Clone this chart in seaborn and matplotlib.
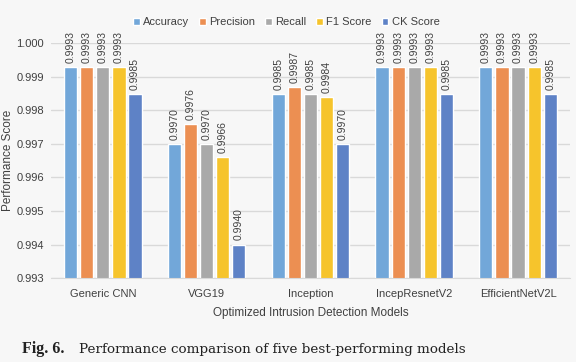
import pandas as pd
import matplotlib.pyplot as plt
import seaborn as sns

# scores
models = ['Generic CNN', 'VGG19', 'Inception', 'IncepResnetV2', 'EfficientNetV2L']
metrics = ['Accuracy', 'Precision', 'Recall', 'F1 Score', 'CK Score']
accuracy = [0.9993, 0.9970, 0.9985, 0.9993, 0.9993]
precision = [0.9993, 0.9976, 0.9987, 0.9993, 0.9993]
recall = [0.9993, 0.9970, 0.9985, 0.9993, 0.9993]
f1_score = [0.9993, 0.9966, 0.9984, 0.9993, 0.9993]
ck_score = [0.9985, 0.9940, 0.9970, 0.9985, 0.9985]
colors = ['#72A7D9', '#EC8F52', '#A9A9A9', '#F6C42C', '#5E82C6']

rows = []
for m, vals in zip(metrics, [accuracy, precision, recall, f1_score, ck_score]):
    for model, v in zip(models, vals):
        rows.append({'Model': model, 'Metric': m, 'Score': v})
df = pd.DataFrame(rows)

sns.set_style('whitegrid')
plt.rcParams['font.family'] = ['Liberation Sans', 'DejaVu Sans']
bg = '#F7F7F7'
txt = '#404040'

fig = plt.figure(figsize=(5.76, 3.62), dpi=100, facecolor=bg)
ax = fig.add_axes([0.0885, 0.232, 0.901, 0.648])
ax.set_facecolor(bg)

sns.barplot(data=df, x='Model', y='Score', hue='Metric', palette=colors,
            saturation=1, width=0.775, gap=0.18, ax=ax, legend=True)

for cont in ax.containers:
    ax.bar_label(cont, fmt='%.4f', rotation=90, padding=3, fontsize=7.5, color=txt)

ax.set_ylim(0.993, 1.000)
ax.set_yticks([0.993, 0.994, 0.995, 0.996, 0.997, 0.998, 0.999, 1.000])
ax.yaxis.set_major_formatter(plt.FormatStrFormatter('%.3f'))
ax.set_xlim(-0.5, 4.5)
ax.grid(axis='y', color='#D9D9D9', linewidth=1)
ax.grid(axis='x', visible=False)
for s in ['top', 'right', 'left']:
    ax.spines[s].set_visible(False)
ax.spines['bottom'].set_color('#D9D9D9')
ax.tick_params(axis='both', labelsize=8, colors=txt, length=0)
ax.tick_params(axis='y', pad=5)
ax.tick_params(axis='x', pad=8)
ax.set_xlabel('Optimized Intrusion Detection Models', fontsize=8.5, color=txt, labelpad=6)
ax.set_ylabel('Performance Score', fontsize=8.5, color=txt)
ax.yaxis.set_label_coords(-0.071, 0.5)

ax.legend(loc='center', bbox_to_anchor=(0.497, 0.939), bbox_transform=fig.transFigure,
          ncol=5, frameon=False, fontsize=8, handlelength=0.6, handleheight=0.6,
          handletextpad=0.3, columnspacing=0.9, labelcolor=txt)

fig.text(0.038, 0.025, 'Fig. 6.', fontsize=11.5, fontweight='bold',
         family='Liberation Serif', color='#222222')
fig.text(0.137, 0.025, 'Performance comparison of five best-performing models',
         fontsize=9.7, family='DejaVu Serif', color='#222222')

fig.savefig('out.png', dpi=100, facecolor=bg)
